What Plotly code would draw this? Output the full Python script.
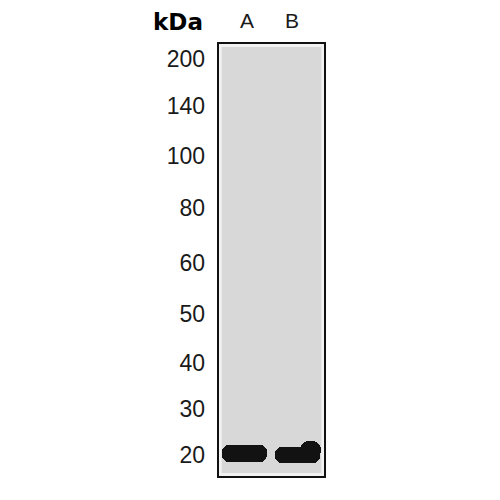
import plotly.graph_objects as go

# marker ladder (kDa) and where each sits along the blot (0 = top, 1 = bottom)
marker_kda = ["200", "140", "100", "80", "60", "50", "40", "30", "20"]
marker_pos = [0.037, 0.145, 0.260, 0.380, 0.507, 0.624, 0.737, 0.843, 0.949]

# lanes and their bands
lane_names = ["A", "B"]
lane_label_x = [0.271, 0.692]
lane_center = [0.248, 0.743]
band_top = [0.927, 0.931]
band_height = [0.038, 0.036]

# lane B band gets heavier towards its right end
shoulder_x = [0.862]
shoulder_top = [0.916]
shoulder_height = [0.045]

fig = go.Figure()

fig.add_trace(
    go.Bar(
        x=lane_center,
        y=band_height,
        base=band_top,
        width=0.42,
        marker=dict(color="#121212", line=dict(width=0), cornerradius=7),
        hoverinfo="skip",
        showlegend=False,
    )
)
fig.add_trace(
    go.Bar(
        x=shoulder_x,
        y=shoulder_height,
        base=shoulder_top,
        width=0.2,
        marker=dict(color="#121212", line=dict(width=0), cornerradius=9),
        hoverinfo="skip",
        showlegend=False,
    )
)

# lane letters above the blot
for name, lx in zip(lane_names, lane_label_x):
    fig.add_annotation(
        x=lx, y=1.051, xref="x", yref="paper", xanchor="center", yanchor="middle",
        text=name, showarrow=False, borderpad=0,
        font=dict(family="Liberation Sans, Arial", size=21, color="#1a1a1a"),
    )

fig.add_annotation(
    x=-0.374, y=1.049, xref="paper", yref="paper", xanchor="center",
    yanchor="middle", text="<b>kDa</b>", showarrow=False, borderpad=0,
    font=dict(family="DejaVu Sans", size=23, color="#000000"),
)

# light rim inside the frame, then the black frame itself
fig.add_shape(
    type="rect", xref="paper", yref="paper", x0=0.02, x1=0.98, y0=0.006, y1=0.994,
    line=dict(color="#f2f2f2", width=3), layer="below",
)
fig.add_shape(
    type="rect", xref="paper", yref="paper", x0=0, x1=1, y0=0, y1=1,
    line=dict(color="#111111", width=2),
)

fig.update_layout(
    width=500,
    height=500,
    margin=dict(l=210, r=183, t=35, b=31),
    paper_bgcolor="white",
    plot_bgcolor="#d8d8d8",
    barmode="overlay",
    bargap=0,
    xaxis=dict(range=[0, 1], showgrid=False, zeroline=False,
               showticklabels=False, fixedrange=True),
    yaxis=dict(
        range=[1, 0], showgrid=False, zeroline=False, fixedrange=True,
        tickvals=marker_pos, ticktext=marker_kda, ticks="",
        ticklabelstandoff=12,
        tickfont=dict(family="Liberation Sans, Arial", size=23, color="#1a1a1a"),
    ),
)

fig.write_html("out.html")
